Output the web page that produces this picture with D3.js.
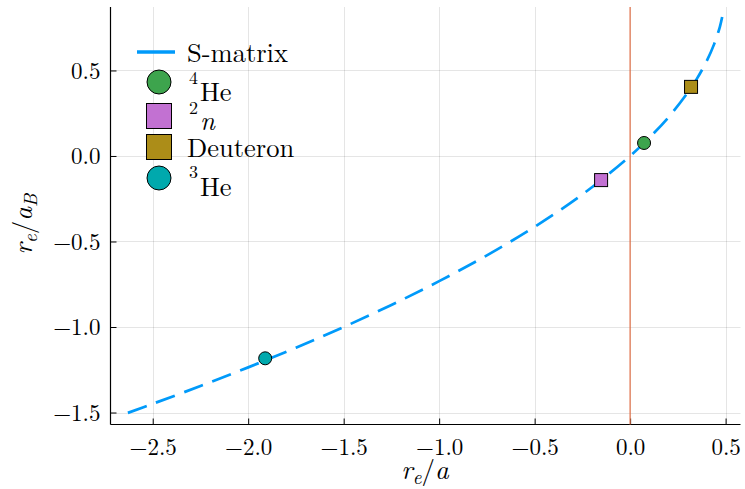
<!DOCTYPE html>
<html>
<head>
<meta charset="utf-8">
<script src="https://cdn.jsdelivr.net/npm/d3@7"></script>
<style>
  body { margin: 0; background: #fff; }
</style>
</head>
<body>
<div id="chart"></div>
<script>
// S-matrix curve
const curveX = [-2.63, -2.5, -2.25, -2.0, -1.75, -1.5, -1.25, -1.0, -0.75, -0.5, -0.25, 0.0, 0.1, 0.2, 0.3, 0.35, 0.4, 0.44, 0.47, 0.482];
const curveY = [-1.502, -1.449, -1.345, -1.236, -1.121, -1.0, -0.871, -0.732, -0.581, -0.414, -0.225, 0.0, 0.106, 0.225, 0.368, 0.452, 0.553, 0.654, 0.755, 0.812];

// nuclei points
const pointNames = ["4He", "2n", "Deuteron", "3He"];
const pointX = [0.073, -0.152, 0.319, -1.911];
const pointY = [0.076, -0.141, 0.404, -1.183];
const pointColors = ["#3DA44D", "#C271D2", "#AC8D18", "#00A9AD"];
const pointShapes = ["circle", "square", "square", "circle"];

const xTicks = [-2.5, -2.0, -1.5, -1.0, -0.5, 0.0, 0.5];
const yTicks = [-1.5, -1.0, -0.5, 0.0, 0.5];

const W = 745, H = 489;
const mLeft = 110.5, mRight = 740.5, mTop = 7, mBottom = 424.5;
const FONT = "Latin Modern Roman";

const svg = d3.select("#chart").append("svg")
    .attr("width", W).attr("height", H);

const x = d3.scaleLinear().domain([-2.721, 0.578]).range([mLeft, mRight]);
const y = d3.scaleLinear().domain([-1.570, 0.871]).range([mBottom, mTop]);

const fmt = v => (v < 0 ? "\u2212" : "") + Math.abs(v).toFixed(1);

// grid
svg.append("g").selectAll("line").data(xTicks).join("line")
    .attr("x1", d => Math.round(x(d)) + 0.5).attr("x2", d => Math.round(x(d)) + 0.5)
    .attr("y1", mTop).attr("y2", mBottom)
    .attr("stroke", "#000").attr("stroke-opacity", 0.1).attr("stroke-width", 1);
svg.append("g").selectAll("line").data(yTicks).join("line")
    .attr("y1", d => Math.round(y(d)) + 0.5).attr("y2", d => Math.round(y(d)) + 0.5)
    .attr("x1", mLeft).attr("x2", mRight)
    .attr("stroke", "#000").attr("stroke-opacity", 0.1).attr("stroke-width", 1);

// axes (ticks pointing inward)
const xAxis = svg.append("g")
    .attr("transform", `translate(0,${mBottom})`)
    .call(d3.axisBottom(x).tickValues(xTicks).tickSizeInner(-6).tickSizeOuter(0).tickPadding(10).tickFormat(fmt));
const yAxis = svg.append("g")
    .attr("transform", `translate(${mLeft},0)`)
    .call(d3.axisLeft(y).tickValues(yTicks).tickSizeInner(-6).tickSizeOuter(0).tickPadding(10).tickFormat(fmt));
[xAxis, yAxis].forEach(a => {
  a.attr("font-family", FONT).attr("font-size", 23);
  a.selectAll("path.domain").attr("stroke", "#000").attr("stroke-width", 1.2);
  a.selectAll(".tick line").attr("stroke", "#000").attr("stroke-width", 1);
  a.selectAll("text").attr("fill", "#000");
});
xAxis.selectAll("text").attr("dy", null).attr("y", 30);
yAxis.selectAll("text").attr("dy", "0.34em").attr("x", -10);
xAxis.select("path.domain").attr("d", `M${mLeft},0H${mRight}`);
yAxis.select("path.domain").attr("d", `M0,${mTop}V${mBottom}`);

// vertical line at x = 0
svg.append("line")
    .attr("x1", x(0)).attr("x2", x(0)).attr("y1", mTop).attr("y2", mBottom)
    .attr("stroke", "#E26F46").attr("stroke-opacity", 0.8).attr("stroke-width", 1.5);

// S-matrix curve
const curveData = curveX.map((v, i) => [v, curveY[i]]);
svg.append("path")
    .datum(curveData)
    .attr("fill", "none")
    .attr("stroke", "#009AFA")
    .attr("stroke-width", 2.7)
    .attr("stroke-dasharray", "20,10")
    .attr("d", d3.line().x(d => x(d[0])).y(d => y(d[1])).curve(d3.curveCatmullRom));

// points
const pts = pointNames.map((n, i) => ({ name: n, x: pointX[i], y: pointY[i], color: pointColors[i], shape: pointShapes[i] }));
const drawMarker = (g, shape, color, size) => {
  if (shape === "circle") {
    g.append("circle").attr("r", size / 2).attr("fill", color).attr("stroke", "#000").attr("stroke-width", 1);
  } else {
    g.append("rect").attr("x", -size / 2).attr("y", -size / 2).attr("width", size).attr("height", size)
      .attr("fill", color).attr("stroke", "#000").attr("stroke-width", 1);
  }
};
pts.forEach(p => {
  const g = svg.append("g").attr("transform", `translate(${x(p.x)},${y(p.y)})`);
  drawMarker(g, p.shape, p.color, 13);
});

// legend
const leg = svg.append("g").attr("font-family", FONT);
leg.append("line").attr("x1", 137).attr("x2", 175).attr("y1", 52).attr("y2", 52)
    .attr("stroke", "#009AFA").attr("stroke-width", 3.5);
leg.append("text").attr("x", 187).attr("y", 62).attr("font-size", 26.5).text("S-matrix");

const legY = [82, 116, 147, 178];
pts.forEach((p, i) => {
  const g = leg.append("g").attr("transform", `translate(159,${legY[i]})`);
  drawMarker(g, p.shape, p.color, p.shape === "circle" ? 24 : 25);
});
// labels: superscript above, body below (as in the reference)
const sup = (t, yy) => leg.append("text").attr("x", 189).attr("y", yy).attr("font-size", 18).text(t);
sup("4", 84);
leg.append("text").attr("x", 200).attr("y", 101).attr("font-size", 26.5).text("He");
sup("2", 114);
leg.append("text").attr("x", 200).attr("y", 130).attr("font-size", 26.5).attr("font-style", "italic").text("n");
leg.append("text").attr("x", 187).attr("y", 157).attr("font-size", 26.5).text("Deuteron");
sup("3", 178);
leg.append("text").attr("x", 200).attr("y", 196).attr("font-size", 26.5).text("He");

// axis labels
const xl = svg.append("text").attr("x", 425).attr("y", 479).attr("text-anchor", "middle")
    .attr("font-family", FONT).attr("font-size", 27);
xl.append("tspan").attr("font-style", "italic").text("r");
xl.append("tspan").attr("font-style", "italic").attr("font-size", 19).attr("dy", 5).text("e");
xl.append("tspan").attr("dy", -5).text("/");
xl.append("tspan").attr("font-style", "italic").text("a");

const yl = svg.append("text").attr("transform", "translate(32,224) rotate(-90)").attr("text-anchor", "middle")
    .attr("font-family", FONT).attr("font-size", 27);
yl.append("tspan").attr("font-style", "italic").text("r");
yl.append("tspan").attr("font-style", "italic").attr("font-size", 19).attr("dy", 5).text("e");
yl.append("tspan").attr("dy", -5).text("/");
yl.append("tspan").attr("font-style", "italic").text("a");
yl.append("tspan").attr("font-style", "italic").attr("font-size", 19).attr("dy", 5).text("B");
</script>
</body>
</html>
